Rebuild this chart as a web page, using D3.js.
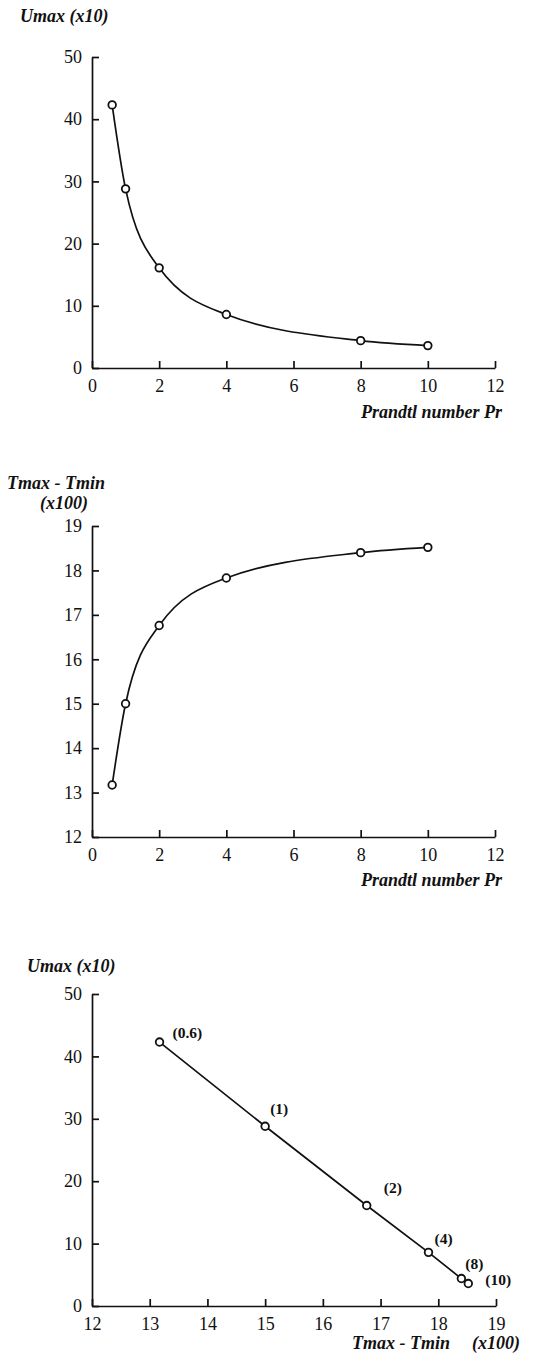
<!DOCTYPE html>
<html>
<head>
<meta charset="utf-8">
<script src="https://cdn.jsdelivr.net/npm/d3@7"></script>
<style>
  html, body { margin: 0; padding: 0; background: #fff; }
  svg { display: block; }
  .tick text { font-family: "Liberation Serif", "Times New Roman", serif; font-size: 18px; fill: #111; }
  .title { font-family: "Liberation Serif", "Times New Roman", serif; font-style: italic; font-weight: bold; font-size: 18px; fill: #111; }
  .plabel { font-family: "Liberation Serif", "Times New Roman", serif; font-weight: bold; font-size: 15.5px; fill: #111; }
</style>
</head>
<body>
<script>
// Prandtl number runs and the resulting maximum velocity / temperature spread
const prandtl = [0.6, 1, 2, 4, 8, 10];
const umax = [42.3, 28.8, 16.1, 8.6, 4.4, 3.6];        // Umax (x10)
const deltaT = [13.17, 15.0, 16.76, 17.83, 18.4, 18.52]; // Tmax - Tmin (x100)

const prTicks = [0, 2, 4, 6, 8, 10, 12];
const umaxTicks = [0, 10, 20, 30, 40, 50];
const deltaTTicks = [12, 13, 14, 15, 16, 17, 18, 19];
const pointLabels = ["(0.6)", "(1)", "(2)", "(4)", "(8)", "(10)"];

// label placement relative to each point in the Umax vs ΔT panel
const labelOffsets = [[13, -4], [5, -12], [17, -13], [6, -8], [4, -10], [17, 1]];

const W = 538, H = 1354;
const svg = d3.select("body").append("svg").attr("width", W).attr("height", H);
svg.append("rect").attr("width", W).attr("height", H).attr("fill", "#fff");

function drawAxes(g, x, y, xTicks, yTicks) {
  const ax = g.append("g")
    .attr("transform", `translate(0,${y.range()[0]})`)
    .call(d3.axisBottom(x).tickValues(xTicks).tickSizeInner(-7).tickSizeOuter(0).tickPadding(11).tickFormat(d3.format("d")));
  const ay = g.append("g")
    .attr("transform", `translate(${x.range()[0]},0)`)
    .call(d3.axisLeft(y).tickValues(yTicks).tickSizeInner(-7).tickSizeOuter(0).tickPadding(10).tickFormat(d3.format("d")));
  [ax, ay].forEach(a => {
    a.selectAll("path.domain").attr("stroke", "#111").attr("stroke-width", 1.7);
    a.selectAll(".tick line").attr("stroke", "#111").attr("stroke-width", 1.7);
  });
  return { ax, ay };
}

function drawMarkers(g, pts) {
  g.selectAll("circle.pt").data(pts).join("circle")
    .attr("class", "pt")
    .attr("cx", d => d[0]).attr("cy", d => d[1]).attr("r", 3.8)
    .attr("fill", "#fff").attr("stroke", "#111").attr("stroke-width", 1.8);
}

// ---- Panel 1: Umax vs Prandtl number
{
  const g = svg.append("g");
  const x = d3.scaleLinear().domain([0, 12]).range([92, 495]);
  const y = d3.scaleLinear().domain([0, 50]).range([368, 57]);
  drawAxes(g, x, y, prTicks, umaxTicks);
  const pts = prandtl.map((p, i) => [x(p), y(umax[i])]);
  g.append("path").attr("d", d3.line().curve(d3.curveMonotoneX)(pts))
    .attr("fill", "none").attr("stroke", "#111").attr("stroke-width", 1.7);
  drawMarkers(g, pts);
  g.append("text").attr("class", "title").attr("x", 20).attr("y", 22).text("Umax (x10)");
  g.append("text").attr("class", "title").attr("x", 502).attr("y", 418)
    .attr("text-anchor", "end").text("Prandtl number Pr");
}

// ---- Panel 2: Tmax - Tmin vs Prandtl number
{
  const g = svg.append("g");
  const x = d3.scaleLinear().domain([0, 12]).range([92, 495]);
  const y = d3.scaleLinear().domain([12, 19]).range([837, 526]);
  drawAxes(g, x, y, prTicks, deltaTTicks);
  const pts = prandtl.map((p, i) => [x(p), y(deltaT[i])]);
  g.append("path").attr("d", d3.line().curve(d3.curveMonotoneX)(pts))
    .attr("fill", "none").attr("stroke", "#111").attr("stroke-width", 1.7);
  drawMarkers(g, pts);
  g.append("text").attr("class", "title").attr("x", 7).attr("y", 489).text("Tmax - Tmin");
  g.append("text").attr("class", "title").attr("x", 64).attr("y", 509)
    .attr("text-anchor", "middle").text("(x100)");
  g.append("text").attr("class", "title").attr("x", 502).attr("y", 886)
    .attr("text-anchor", "end").text("Prandtl number Pr");
}

// ---- Panel 3: Umax vs Tmax - Tmin, labelled by Prandtl number
{
  const g = svg.append("g");
  const x = d3.scaleLinear().domain([12, 19]).range([92, 496]);
  const y = d3.scaleLinear().domain([0, 50]).range([1306, 994]);
  drawAxes(g, x, y, deltaTTicks, umaxTicks);
  const pts = deltaT.map((t, i) => [x(t), y(umax[i])]);
  g.append("path").attr("d", d3.line()(pts))
    .attr("fill", "none").attr("stroke", "#111").attr("stroke-width", 1.7);
  drawMarkers(g, pts);
  g.selectAll("text.plabel").data(pointLabels).join("text")
    .attr("class", "plabel")
    .attr("x", (d, i) => pts[i][0] + labelOffsets[i][0])
    .attr("y", (d, i) => pts[i][1] + labelOffsets[i][1])
    .text(d => d);
  g.append("text").attr("class", "title").attr("x", 27).attr("y", 972).text("Umax (x10)");
  g.append("text").attr("class", "title").attr("x", 450).attr("y", 1349)
    .attr("text-anchor", "end").text("Tmax - Tmin");
  g.append("text").attr("class", "title").attr("x", 520).attr("y", 1349)
    .attr("text-anchor", "end").text("(x100)");
}
</script>
</body>
</html>
